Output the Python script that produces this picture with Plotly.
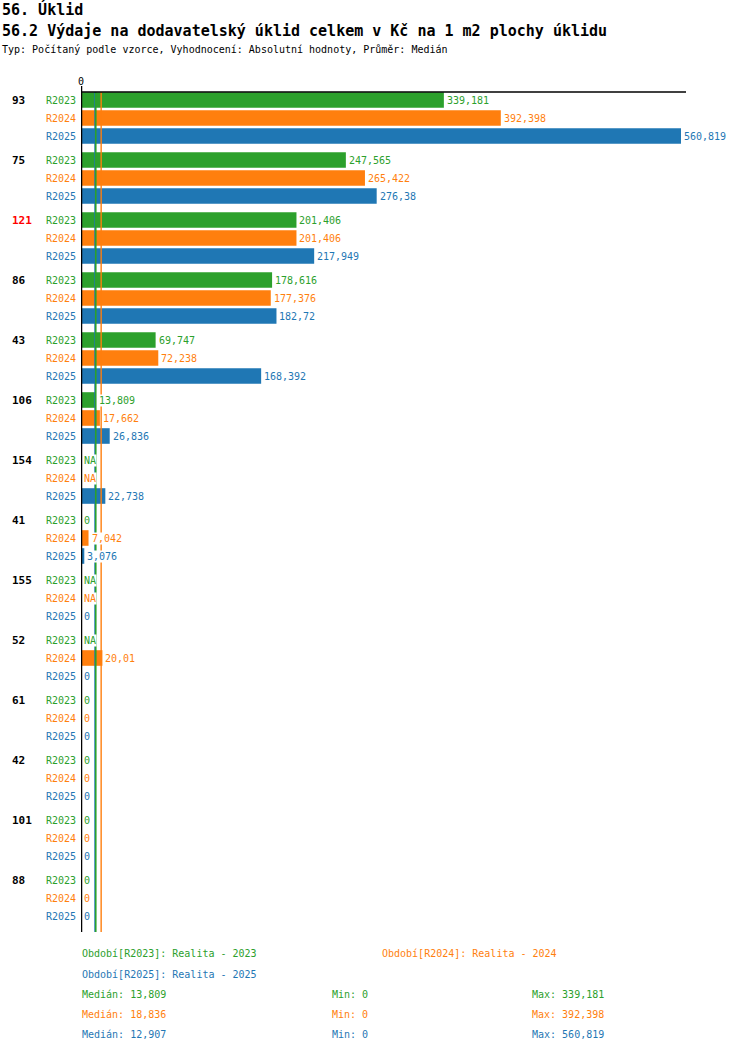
import plotly.graph_objects as go

# data (values in Kč / m2, None = NA)
groups = ["93", "75", "121", "86", "43", "106", "154", "41", "155", "52", "61", "42", "101", "88"]
series = ["R2023", "R2024", "R2025"]
colors = ["#2ca02c", "#ff7f0e", "#1f77b4"]
values_2023 = [339.181, 247.565, 201.406, 178.616, 69.747, 13.809, None, 0, None, None, 0, 0, 0, 0]
values_2024 = [392.398, 265.422, 201.406, 177.376, 72.238, 17.662, None, 7.042, None, 20.01, 0, 0, 0, 0]
values_2025 = [560.819, 276.38, 217.949, 182.72, 168.392, 26.836, 22.738, 3.076, 0, 0, 0, 0, 0, 0]
highlight = "121"

medians = [13.809, 18.836, 12.907]
mins = [0, 0, 0]
maxs = [339.181, 392.398, 560.819]
period_names = ["Realita - 2023", "Realita - 2024", "Realita - 2025"]

title1 = "56. Úklid"
title2 = "56.2 Výdaje na dodavatelský úklid celkem v Kč na 1 m2 plochy úklidu"
subtitle = "Typ: Počítaný podle vzorce, Vyhodnocení: Absolutní hodnoty, Průměr: Medián"

FONT = "DejaVu Sans Mono"
W, H = 750, 1052
PLOT_L, PLOT_R, PLOT_T, PLOT_B = 81, 686, 92, 932
XMAX = 565.5


def fmt(v):
    if v is None:
        return "NA"
    s = f"{v:.3f}".rstrip("0").rstrip(".")
    return s.replace(".", ",")


def py(p):
    # pixel row -> paper y
    return (PLOT_B - p) / (PLOT_B - PLOT_T)


def px(p):
    # pixel column -> paper x
    return (p - PLOT_L) / (PLOT_R - PLOT_L)


def label(x, y, text, color, size=10, xref="paper", yref="paper", **kw):
    d = dict(x=x, y=y, xref=xref, yref=yref, text=text, showarrow=False,
             xanchor="left", yanchor="middle", font=dict(family=FONT, size=size, color=color))
    d.update(kw)
    return d


all_values = [values_2023, values_2024, values_2025]

fig = go.Figure()
annotations = []

for si, (name, col, vals) in enumerate(zip(series, colors, all_values)):
    ys = [gi * 10 + si * 3 for gi in range(len(groups))]
    fig.add_trace(go.Bar(
        x=[0 if v is None else v for v in vals],
        y=ys,
        orientation="h",
        width=2.6,
        marker=dict(color=col, line_width=0),
        name=name,
        showlegend=False,
        hoverinfo="skip",
    ))
    for y, v in zip(ys, vals):
        # series label left of axis
        annotations.append(label(0, y, name, col, xref="x", yref="y", xanchor="right", xshift=-3))
        # value label
        annotations.append(label(0 if v is None else v, y, fmt(v), col, xref="x", yref="y",
                                 xshift=2, bgcolor="white", borderpad=0))

for gi, g in enumerate(groups):
    annotations.append(label(px(10), gi * 10, "<b>" + g + "</b>",
                             "#ff0000" if g == highlight else "black", size=11, yref="y"))

# median lines (green drawn last, over blue)
for si, w in [(2, 1.0), (1, 1.4), (0, 1.6)]:
    fig.add_shape(type="line", x0=medians[si], x1=medians[si], xref="x", y0=0, y1=1, yref="paper",
                  line=dict(color=colors[si], width=w), layer="above")

# axis lines
fig.add_shape(type="line", x0=0, x1=1, xref="paper", y0=1, y1=1, yref="paper",
              line=dict(color="black", width=1.5), layer="above")
fig.add_shape(type="line", x0=0, x1=0, xref="x", y0=0, y1=py(86), yref="paper",
              line=dict(color="black", width=2.5), layer="above")
annotations.append(label(0, py(81), "0", "black", xref="x", xanchor="center"))

# titles
annotations.append(label(px(0), py(10), "<b>" + title1 + "</b>", "black", size=15))
annotations.append(label(px(0), py(31), "<b>" + title2 + "</b>", "black", size=15))
annotations.append(label(px(0), py(50), subtitle, "black", size=10))

# legend of periods
legend_pos = [(80, 954), (380, 954), (80, 974)]
for (lx, ly), name, pname, col in zip(legend_pos, series, period_names, colors):
    annotations.append(label(px(lx), py(ly), f"Období[{name}]: {pname}", col))

# stats
for si, col in enumerate(colors):
    ly = 994 + si * 20
    for lx, txt in [(80, "Medián: " + fmt(medians[si])), (330, "Min: " + fmt(mins[si])),
                    (530, "Max: " + fmt(maxs[si]))]:
        annotations.append(label(px(lx), py(ly), txt, col))

fig.update_layout(
    width=W, height=H,
    margin=dict(l=PLOT_L, r=W - PLOT_R, t=PLOT_T, b=H - PLOT_B, pad=0),
    barmode="overlay",
    plot_bgcolor="white", paper_bgcolor="white",
    xaxis=dict(range=[0, XMAX], showgrid=False, zeroline=False, showticklabels=False, showline=False),
    yaxis=dict(range=[(PLOT_B - 100) / 6, (PLOT_T - 100) / 6], showgrid=False, zeroline=False,
               showticklabels=False, showline=False),
    annotations=annotations,
    font=dict(family=FONT),
)

fig.write_html("out.html", config={"displayModeBar": False},
               post_script="document.body.style.margin='0';")
